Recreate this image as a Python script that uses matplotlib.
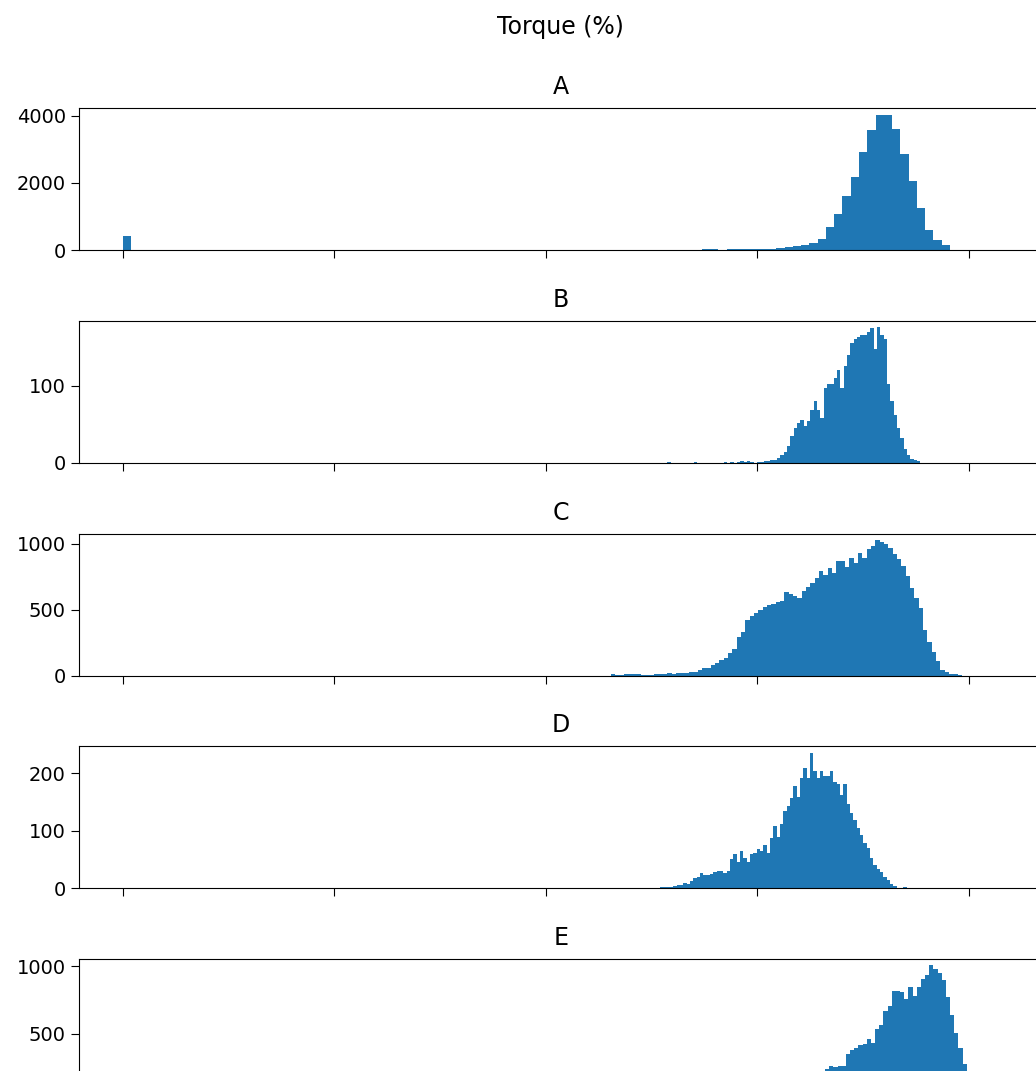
import numpy as np
import matplotlib

matplotlib.use('Agg')
import matplotlib.pyplot as plt

# panel names
panels = ['A', 'B', 'C', 'D', 'E']

# histogram counts per bin (bins start at *_lo, step *_w)
a_lo, a_w = 0.0, 0.782
a_counts = [406] + [0] * 68 + [
    10, 35, 20, 10, 35, 15, 40, 35, 20, 30, 50, 90, 105, 150, 200,
    335, 691, 1077, 1600, 2193, 2933, 3575, 4020, 4020, 3620, 2850, 2044,
    1254, 593, 296, 138]

b_lo, b_w = 51.46, 0.315
b_counts = [
    1, 0, 0, 0, 0, 0, 0, 0, 1, 0, 0, 0, 0, 0, 0, 0, 0, 1, 0, 1, 0, 1, 2, 1,
    2, 1, 0, 1, 1, 2, 2, 3, 4, 6,
    10, 14, 22, 35, 45, 52, 56, 48, 54, 69, 80, 68, 58, 97, 102, 102, 110,
    120, 97, 125, 140, 155, 161, 163, 165, 166, 170, 174, 148, 176, 165, 160,
    102, 80, 62, 45, 32, 18, 10, 5, 3, 2]

c_lo, c_w = 46.15, 0.4097
c_counts = [
    10, 5, 5, 10, 10, 8, 8, 6, 6, 7, 8, 8, 12, 20, 15, 20, 22, 22, 25, 30,
    45, 55, 60, 83, 96, 114, 134, 167, 202, 293, 328, 424, 454, 475, 495,
    520, 538, 545, 555, 563, 631, 614, 601, 590, 640, 670, 700, 740, 790,
    760, 816, 778, 870, 866, 823, 892, 853, 929, 892, 955, 980, 1025, 1015,
    1000, 967, 924, 879, 828, 752, 664, 588, 513, 348, 253, 177, 109, 45, 25,
    15, 10, 5]

d_lo, d_w = 50.15, 0.3152
d_counts = [
    1, 1, 2, 2, 2, 2, 4, 5, 6, 9, 8, 12, 17, 20, 26, 23, 23, 25, 29, 30, 30,
    27, 30, 51, 59, 46, 65, 52, 45, 59, 61, 68, 64, 75, 61, 87, 109, 90, 111,
    134, 143, 157, 178, 158, 192, 210, 192, 236, 204, 192, 204, 195, 195, 204,
    184, 181, 163, 181, 146, 131, 119, 105, 93, 78, 70, 52, 40, 33, 29, 20,
    14, 8, 4, 1, 0, 2]

e_lo, e_w = 59.3, 0.394
e_counts = [
    2, 3, 5, 8, 12, 20, 30, 40, 55, 70, 90, 110, 130, 150, 170, 190,
    212, 225, 237, 258, 250, 258, 263, 351, 376, 396, 414, 422, 457, 432,
    533, 565, 667, 705, 818, 818, 810, 755, 843, 780, 843, 902, 937, 1008,
    977, 952, 894, 768, 641, 502, 396, 275, 120, 50, 15, 5]

y_limits = [4237, 184, 1076, 247, 1053]
y_ticks = [[0, 2000, 4000], [0, 100], [0, 500, 1000], [0, 100, 200], [0, 500, 1000]]
x_ticks = [0, 20, 40, 60, 80]

hist_data = [(a_lo, a_w, a_counts), (b_lo, b_w, b_counts), (c_lo, c_w, c_counts),
             (d_lo, d_w, d_counts), (e_lo, e_w, e_counts)]

W, H = 1036, 1071
fig = plt.figure(figsize=(W / 100, H / 100), dpi=100)
fig.suptitle('Torque (%)', fontsize=17, x=560 / W, y=1 - 27 / H, va='center')

left_px, right_px = 79, 1043
for k, name in enumerate(panels):
    top_px = 108 + 212.75 * k
    ax = fig.add_axes([left_px / W, 1 - (top_px + 142) / H,
                       (right_px - left_px) / W, 142 / H])
    lo, w, counts = hist_data[k]
    edges = lo + w * np.arange(len(counts) + 1)
    ax.hist(edges[:-1], bins=edges, weights=counts, color='#1f77b4')
    ax.set_xlim(-4.16, 87.0)
    ax.set_ylim(0, y_limits[k])
    ax.set_xticks(x_ticks)
    ax.set_yticks(y_ticks[k])
    ax.tick_params(labelsize=14, length=6, labelbottom=False)
    ax.set_title(name, fontsize=17, pad=10)

fig.savefig('out.png', dpi=100)
